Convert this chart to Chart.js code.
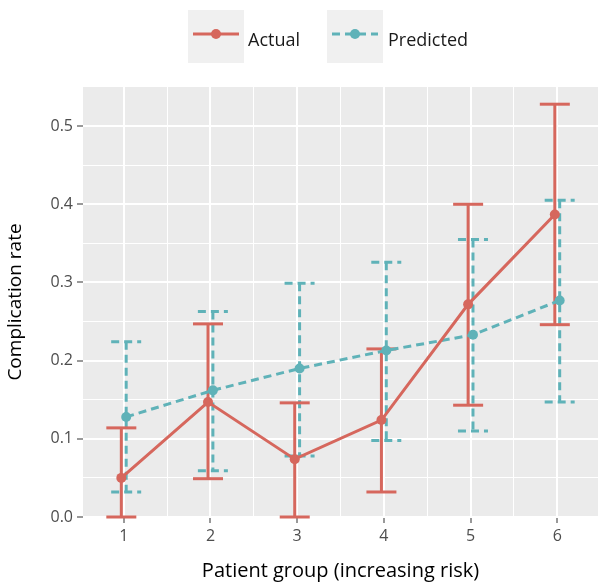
<!DOCTYPE html>
<html>
<head>
<meta charset="utf-8">
<script src="https://cdn.jsdelivr.net/npm/chart.js@4"></script>
<style>
  body { margin: 0; background: #fff; }
  #wrap { position: relative; width: 604px; height: 588px; }
  #chart { position: absolute; left: 0; top: 0; }
  .key { position: absolute; top: 10px; width: 56px; height: 53px; background: #f0f0f0; }
  .lab { position: absolute; top: 27px; font: 18px "Open Sans", sans-serif; color: #1a1a1a; }
</style>
</head>
<body>
<div id="wrap">
  <canvas id="chart" width="604" height="588"></canvas>
  <div class="key" style="left:188px">
    <svg width="56" height="53"><line x1="5" y1="24" x2="51" y2="24" stroke="#d6675d" stroke-width="3"/><circle cx="28" cy="24" r="5" fill="#d6675d"/></svg>
  </div>
  <div class="lab" style="left:248px">Actual</div>
  <div class="key" style="left:327px">
    <svg width="56" height="53"><line x1="5" y1="24" x2="51" y2="24" stroke="#5fb2b8" stroke-width="3" stroke-dasharray="8 5"/><circle cx="28" cy="24" r="5" fill="#5fb2b8"/></svg>
  </div>
  <div class="lab" style="left:388px">Predicted</div>
</div>
<script>
// complication rate per patient group
const groups = [1, 2, 3, 4, 5, 6];
const actual = [0.050, 0.147, 0.074, 0.124, 0.272, 0.387];
const actualLow = [0.000, 0.049, 0.000, 0.032, 0.143, 0.246];
const actualHigh = [0.114, 0.247, 0.146, 0.215, 0.400, 0.528];
const predicted = [0.128, 0.162, 0.190, 0.213, 0.233, 0.277];
const predictedLow = [0.032, 0.059, 0.078, 0.098, 0.110, 0.147];
const predictedHigh = [0.224, 0.263, 0.299, 0.326, 0.355, 0.405];
const yTicks = [0, 0.1, 0.2, 0.3, 0.4, 0.5];

const red = '#d6675d';
const teal = '#5fb2b8';
const dodge = 0.028;

function isMajor(v) {
  return yTicks.some(t => Math.abs(t - v) < 1e-6);
}

// grey ggplot-style panel
const panelBg = {
  id: 'panelBg',
  beforeDraw(chart) {
    const a = chart.chartArea;
    chart.ctx.save();
    chart.ctx.fillStyle = '#ebebeb';
    chart.ctx.fillRect(a.left, a.top, a.right - a.left, a.bottom - a.top);
    chart.ctx.restore();
  }
};

// error bars drawn under the lines, teal first then red
const errorBars = {
  id: 'errorBars',
  beforeDatasetsDraw(chart) {
    const ctx = chart.ctx;
    const xs = chart.scales.x, ys = chart.scales.y;
    const sets = [
      { low: predictedLow, high: predictedHigh, shift: dodge, color: teal, dash: [8, 5] },
      { low: actualLow, high: actualHigh, shift: -dodge, color: red, dash: [] }
    ];
    ctx.save();
    ctx.beginPath();
    ctx.rect(chart.chartArea.left, chart.chartArea.top - 2, chart.chartArea.right - chart.chartArea.left, chart.chartArea.bottom - chart.chartArea.top + 4);
    ctx.clip();
    sets.forEach(s => {
      ctx.strokeStyle = s.color;
      ctx.lineWidth = 3;
      ctx.setLineDash(s.dash);
      groups.forEach((g, i) => {
        const x = xs.getPixelForValue(g + s.shift);
        const y0 = ys.getPixelForValue(s.low[i]);
        const y1 = ys.getPixelForValue(s.high[i]);
        ctx.beginPath();
        ctx.moveTo(x, y1);
        ctx.lineTo(x, y0);
        ctx.stroke();
        [y0, y1].forEach(y => {
          ctx.beginPath();
          ctx.moveTo(x - 15, y);
          ctx.lineTo(x + 15, y);
          ctx.stroke();
        });
      });
    });
    ctx.restore();
  }
};

new Chart(document.getElementById('chart'), {
  type: 'line',
  data: {
    datasets: [
      {
        label: 'Predicted',
        data: groups.map((g, i) => ({ x: g + dodge, y: predicted[i] })),
        borderColor: teal,
        backgroundColor: teal,
        borderWidth: 3,
        borderDash: [8, 5],
        pointRadius: 5,
        pointBorderWidth: 0,
        order: 2
      },
      {
        label: 'Actual',
        data: groups.map((g, i) => ({ x: g - dodge, y: actual[i] })),
        borderColor: red,
        backgroundColor: red,
        borderWidth: 3,
        pointRadius: 5,
        pointBorderWidth: 0,
        order: 1
      }
    ]
  },
  options: {
    responsive: false,
    animation: false,
    layout: { padding: { top: 87, right: 6, left: 0, bottom: 0 } },
    plugins: { legend: { display: false }, tooltip: { enabled: false } },
    scales: {
      x: {
        type: 'linear',
        min: 0.53,
        max: 6.47,
        afterBuildTicks(scale) {
          const t = [];
          for (let v = 1; v <= 6.001; v += 0.5) t.push({ value: v });
          scale.ticks = t;
        },
        afterFit(scale) { scale.height = 71; },
        grid: {
          color: '#ffffff',
          lineWidth: c => (c.tick && Number.isInteger(c.tick.value)) ? 2 : 1,
          tickLength: 6,
          tickWidth: 1.2,
          tickColor: c => (c.tick && Number.isInteger(c.tick.value)) ? '#555' : 'rgba(0,0,0,0)'
        },
        border: { display: false },
        ticks: {
          autoSkip: false,
          maxRotation: 0,
          padding: 4,
          color: '#4d4d4d',
          font: { family: 'Open Sans', size: 16 },
          callback: v => Number.isInteger(v) ? String(v) : ''
        },
        title: {
          display: true,
          text: 'Patient group (increasing risk)',
          color: '#000',
          font: { family: 'Open Sans', size: 20 },
          padding: { top: 0, bottom: 5 }
        }
      },
      y: {
        min: 0,
        max: 0.55,
        afterBuildTicks(scale) {
          const t = [];
          for (let k = 0; k <= 10; k++) t.push({ value: k * 0.05 });
          scale.ticks = t;
        },
        afterFit(scale) { scale.width = 83; },
        grid: {
          color: '#ffffff',
          lineWidth: c => (c.tick && isMajor(c.tick.value)) ? 2 : 1,
          tickLength: 6,
          tickWidth: 1.2,
          tickColor: c => (c.tick && isMajor(c.tick.value)) ? '#555' : 'rgba(0,0,0,0)'
        },
        border: { display: false },
        ticks: {
          autoSkip: false,
          padding: 4,
          color: '#4d4d4d',
          font: { family: 'Open Sans', size: 16 },
          callback: v => isMajor(v) ? v.toFixed(1) : ''
        },
        title: {
          display: true,
          text: 'Complication rate',
          color: '#000',
          font: { family: 'Open Sans', size: 19 },
          padding: { top: 4, bottom: 0 }
        }
      }
    }
  },
  plugins: [panelBg, errorBars]
});
</script>
</body>
</html>
